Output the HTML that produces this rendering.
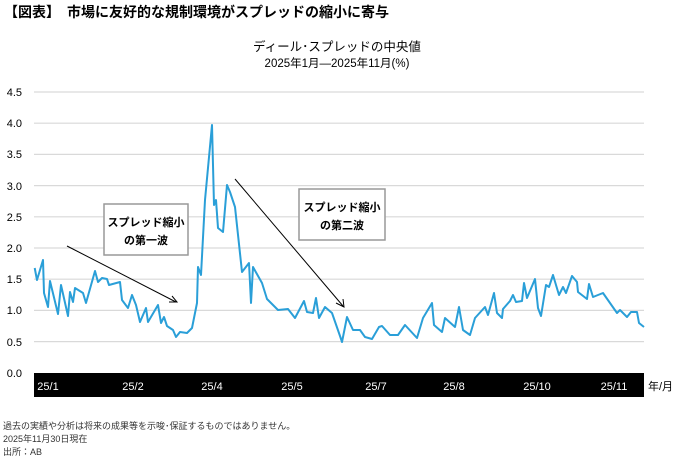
<!DOCTYPE html>
<html><head><meta charset="utf-8"><style>
body{margin:0;width:674px;height:461px;background:#fff;overflow:hidden}
svg{display:block}
text{font-family:"Liberation Sans","Noto Sans CJK JP",sans-serif}
</style></head><body>
<svg width="674" height="461" viewBox="0 0 674 461">
<text x="4" y="17" font-size="14" font-weight="bold" fill="#000">【図表】　市場に友好的な規制環境がスプレッドの縮小に寄与</text>
<text x="337" y="51" font-size="12.5" text-anchor="middle" fill="#000">ディール･スプレッドの中央値</text>
<text x="337" y="67" font-size="11.5" text-anchor="middle" fill="#000">2025年1月―2025年11月(%)</text>
<g stroke="#d9d9d9" stroke-width="1.2">
<line x1="34" x2="644" y1="92" y2="92"/><line x1="34" x2="644" y1="123.2" y2="123.2"/><line x1="34" x2="644" y1="154.4" y2="154.4"/><line x1="34" x2="644" y1="185.6" y2="185.6"/><line x1="34" x2="644" y1="216.8" y2="216.8"/><line x1="34" x2="644" y1="248" y2="248"/><line x1="34" x2="644" y1="279.2" y2="279.2"/><line x1="34" x2="644" y1="310.4" y2="310.4"/><line x1="34" x2="644" y1="341.6" y2="341.6"/>
</g>
<g font-size="11" fill="#000" text-anchor="end">
<text x="22" y="96">4.5</text><text x="22" y="127">4.0</text><text x="22" y="158">3.5</text><text x="22" y="190">3.0</text><text x="22" y="221">2.5</text><text x="22" y="252">2.0</text><text x="22" y="283">1.5</text><text x="22" y="314">1.0</text><text x="22" y="346">0.5</text><text x="22" y="377">0.0</text>
</g>
<rect x="34" y="373" width="610" height="24" fill="#000"/>
<g font-size="11" fill="#fff" text-anchor="middle">
<text x="48" y="390">25/1</text><text x="133" y="390">25/2</text><text x="212" y="390">25/4</text><text x="292" y="390">25/5</text><text x="376" y="390">25/7</text><text x="454" y="390">25/8</text><text x="537" y="390">25/10</text><text x="614" y="390">25/11</text>
</g>
<text x="648" y="390" font-size="11" fill="#000">年/月</text>
<polyline fill="none" stroke="#2a9fd8" stroke-width="2" stroke-linejoin="round" points="34.7,268 37,280 43,260 44,293 48,307 50,281 58,314 61,285 68,316 70,292 73,302 75,288 83,293 86,303 95,271 98,282 102,278 107,279 109,285 120,282 122,300 128,308 132,295 136,305 140,322 146,308 148,322 158,305 161,323 164,317 167,326 173,330 176,337 180,332 187,333 192,328 197,303 198,267 201,275 205,200 212,125 214,205 216,200 218,228 223,232 227,185 230,192 235,207 242,272 249,263 251,303 253,267 262,283 267,299 278,310 288,309 295,318 304,301 307,312 313,313 316,298 319,318 325,307 332,313 340,336 342,342 347,317 353,330 360,330 365,337 372,339 379,327 382,326 390,335 398,335 405,325 417,338 423,318 432,303 434,325 442,332 445,318 455,327 459,307 463,330 470,335 475,318 485,307 488,315 494,293 497,313 502,318 503,309 510,301 513,295 516,302 522,301 524,283 527,298 535,279 538,308 541,316 546,285 549,287 553,275 559,295 563,287 566,293 572,276 577,282 578,292 587,299 589,284 593,297 603,293 610,303 617,313 620,310 627,317 631,312 637,312 639,323 644,327"/>
<g stroke="#000" stroke-width="1" fill="none">
<line x1="67" y1="246" x2="176" y2="302"/><polyline points="169,302 177,302 172,296"/>
<line x1="235" y1="179" x2="343" y2="306"/><polyline points="336,303 344,307 343,299"/>
</g>
<rect x="104" y="204" width="84" height="51" fill="#fff" stroke="#999" stroke-width="1.5"/>
<text x="146" y="226" font-size="11" font-weight="bold" text-anchor="middle">スプレッド縮小</text>
<text x="146" y="244" font-size="11" font-weight="bold" text-anchor="middle">の第一波</text>
<rect x="299" y="189" width="86" height="51" fill="#fff" stroke="#999" stroke-width="1.5"/>
<text x="342" y="211" font-size="11" font-weight="bold" text-anchor="middle">スプレッド縮小</text>
<text x="342" y="229" font-size="11" font-weight="bold" text-anchor="middle">の第二波</text>
<g font-size="9" fill="#333">
<text x="3" y="429">過去の実績や分析は将来の成果等を示唆･保証するものではありません。</text>
<text x="3" y="442">2025年11月30日現在</text>
<text x="3" y="455">出所：AB</text>
</g>
</svg>
</body></html>
